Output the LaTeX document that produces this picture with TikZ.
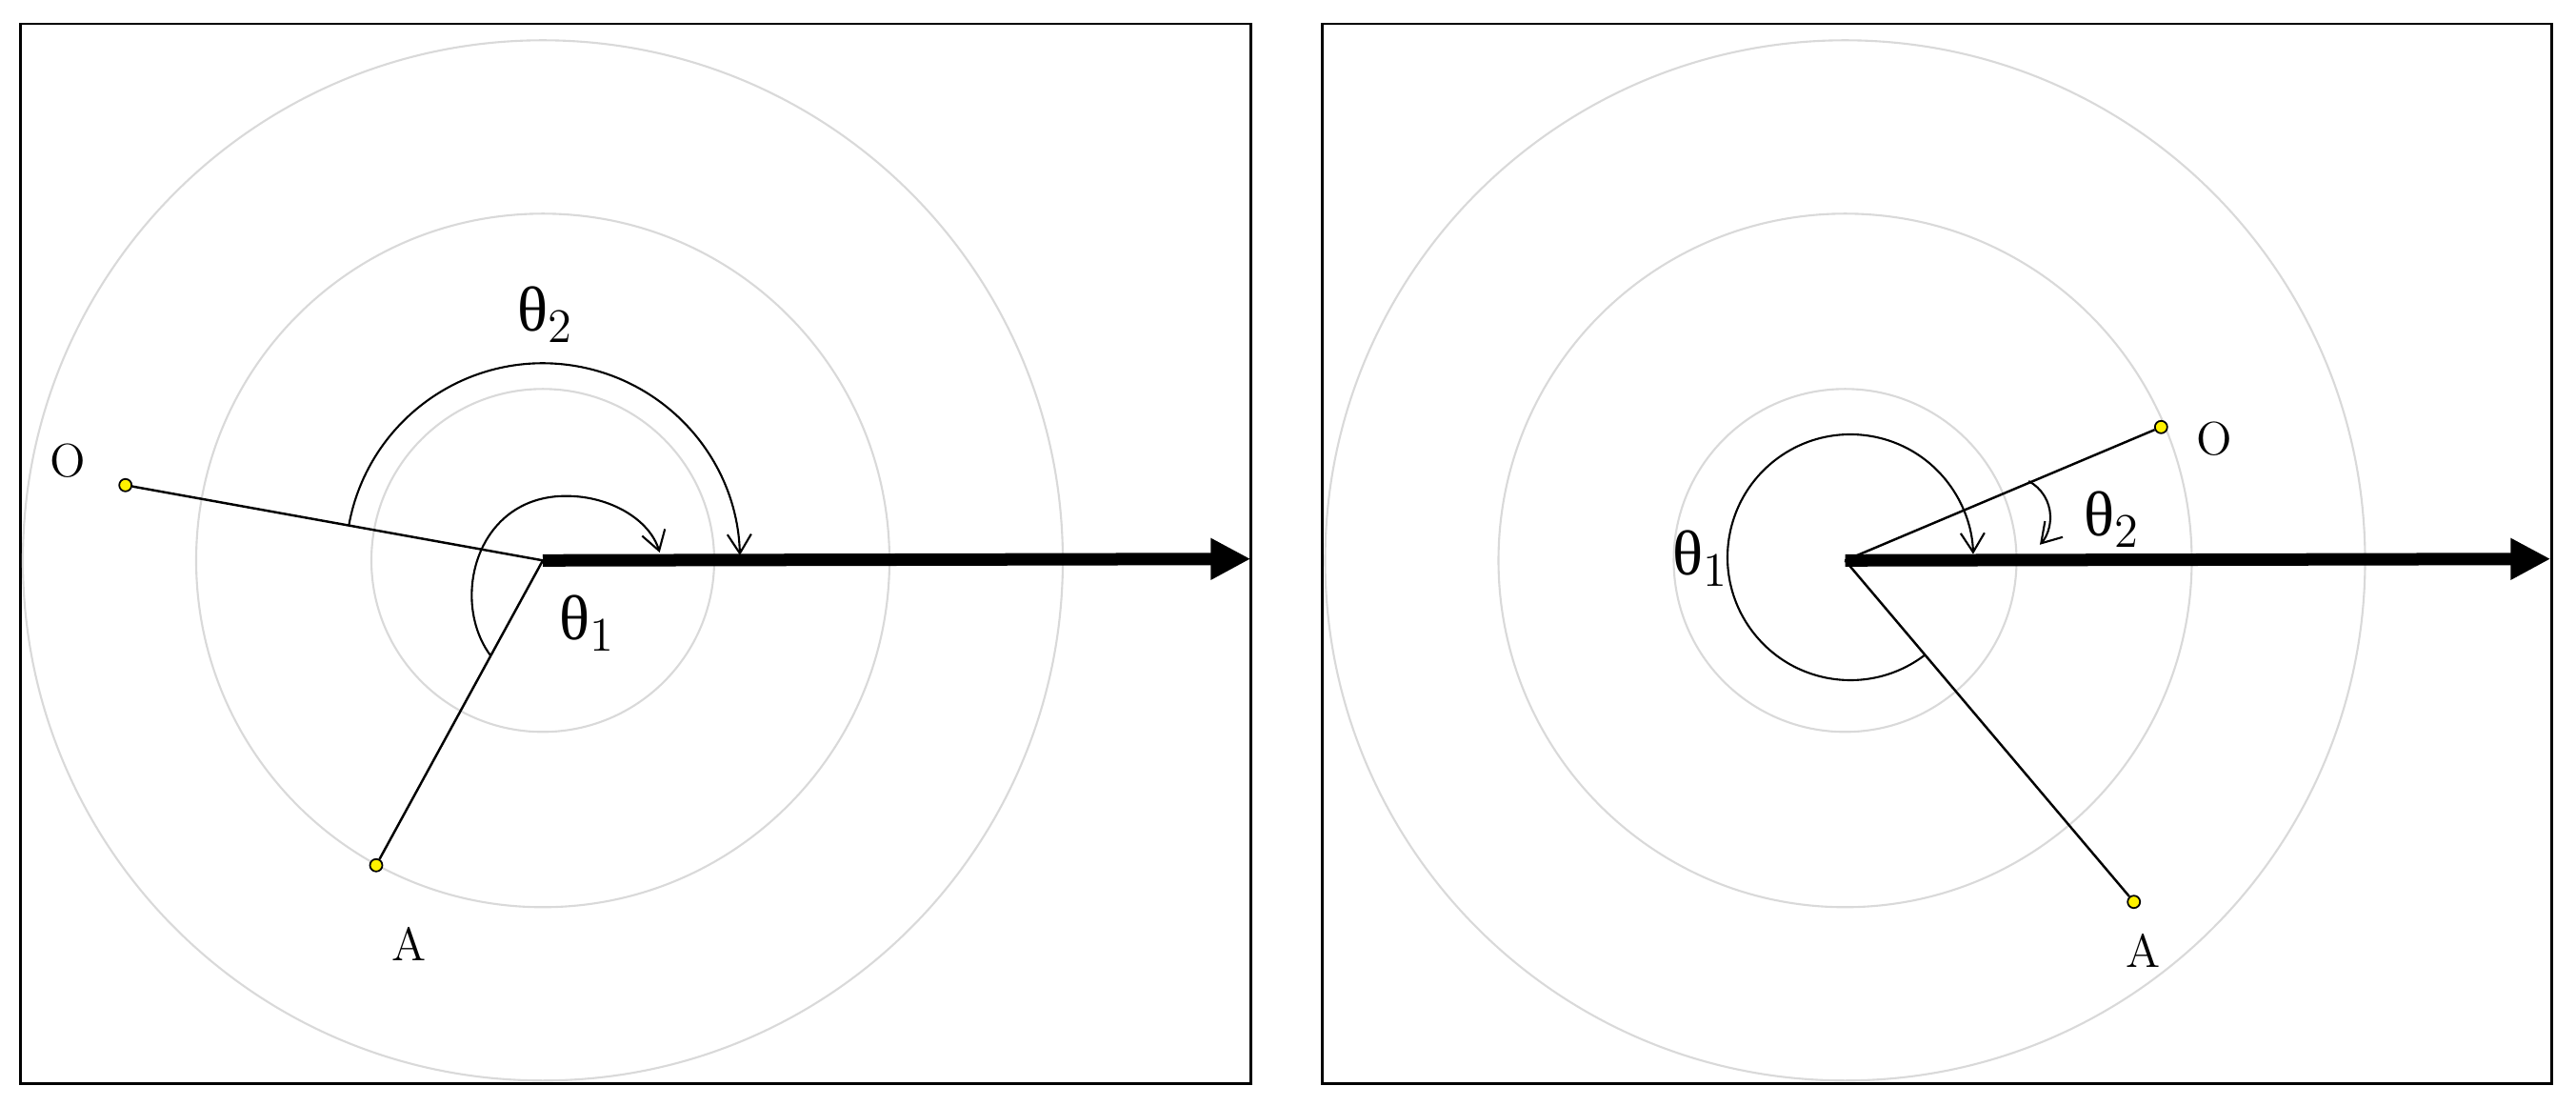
\documentclass[tikz,border=0pt]{standalone}
\usepackage{fontspec}
\usetikzlibrary{arrows.meta}
\newfontfamily\thetafont{Liberation Serif}

\begin{document}
\begin{tikzpicture}[>={Straight Barb[length=2mm,width=2.5mm]},
            ring/.style={draw=gray!30, line width=0.6pt},
            panel/.style={draw, line width=0.8pt},
            ray/.style={line width=0.7pt},
            sweep/.style={line width=0.6pt, ->},
            bigarrow/.style={line width=3.7pt, -{Triangle[length=4.2mm,width=4.1mm]}},
            spot/.style={circle, draw, fill=yellow, inner sep=0pt, minimum size=1.3mm, line width=0.5pt},
            lbl/.style={inner sep=0pt, font=\fontsize{14}{14}\selectfont},
            anglbl/.style={inner sep=0pt, font=\fontsize{19}{19}\selectfont\thetafont}]
  \useasboundingbox (0,0) rectangle (27.05,11.6);
  \draw[panel] (0.217,0.225) rectangle (13.133,11.35);
  \draw[panel] (13.883,0.225) rectangle (26.793,11.35);

  \coordinate (c1) at (5.70,5.717);
  \coordinate (t1) at (13.133,5.733);
  \foreach \r in {1.8,3.64,5.46} \draw[ring] (c1) circle[radius=\r];
  \node[spot] (o1) at (1.317,6.507) {};
  \node[spot] (a1) at (3.95,2.517) {};
  \draw[ray] (c1) -- (o1);
  \draw[ray] (c1) -- (a1);
  \draw[bigarrow] (c1) -- (t1);
  \draw[sweep] ([shift={(169.7:2.07)}]c1) arc[start angle=169.7, end angle=1.5, radius=2.07];
  \draw[sweep] (5.15,4.72) .. controls (4.72,5.3) and (5.0,6.40) .. (5.95,6.393)
    .. controls (6.4,6.393) and (6.82,6.15) .. (6.927,5.80);
  \node[lbl] (lo1) at (0.713,6.76) {O};
  \node[lbl] (la1) at (4.30,1.692) {A};
  \node[anglbl] (th21) at (5.73,8.30) {θ$_2$};
  \node[anglbl] (th11) at (6.167,5.06) {θ$_1$};

  \coordinate (c2) at (19.375,5.717);
  \coordinate (t2) at (26.783,5.733);
  \coordinate (k2) at (19.43,5.75);
  \coordinate (k3) at (21.10,6.17);
  \foreach \r in {1.8,3.64,5.46} \draw[ring] (c2) circle[radius=\r];
  \node[spot] (o2) at (22.693,7.117) {};
  \node[spot] (a2) at (22.407,2.133) {};
  \draw[ray] (c2) -- (o2);
  \draw[ray] (c2) -- (a2);
  \draw[bigarrow] (c2) -- (t2);
  \draw[sweep] ([shift={(307.5:1.29)}]k2) arc[start angle=307.5, end angle=1.5, radius=1.29];
  \draw[sweep] ([shift={(62:0.43)}]k3) arc[start angle=62, end angle=-42, radius=0.43];
  \node[lbl] (lo2) at (23.25,6.995) {O};
  \node[lbl] (la2) at (22.503,1.625) {A};
  \node[anglbl] (th12) at (17.86,5.74) {θ$_1$};
  \node[anglbl] (th22) at (22.18,6.15) {θ$_2$};
\end{tikzpicture}
\end{document}
